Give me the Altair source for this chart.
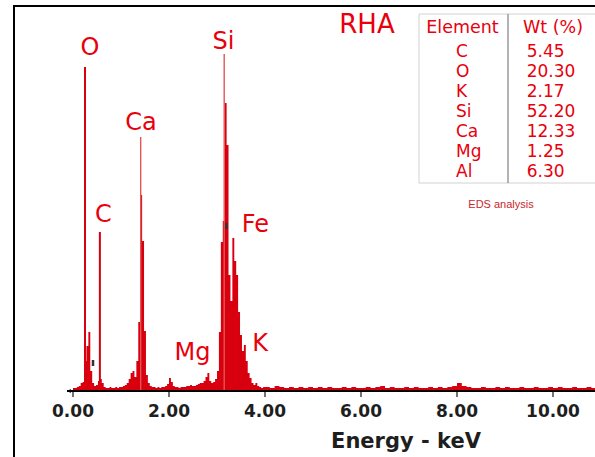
import altair as alt
import pandas as pd
import numpy as np

RED = "#d8000e"
TXT_RED = "#e8000c"

# ---------------- data ----------------
# spectrum counts, fine channels (0.00 - 3.96 keV, 0.04 keV each)
fine_counts = [
    30, 30, 40, 50, 80, 90, 300, 450, 590, 200,
    80, 50, 60, 100, 120, 80, 40, 30, 30, 40,
    30, 30, 40, 30, 40, 40, 50, 60, 80, 120,
    180, 200, 140, 300, 690, 1960, 1500, 600, 160, 80,
    50, 40, 40, 30, 40, 30, 40, 40, 50, 70,
    130, 90, 50, 40, 40, 30, 40, 40, 40, 50,
    50, 60, 50, 50, 60, 70, 80, 80, 100, 140,
    180, 100, 80, 90, 120, 200, 590, 1490, 1700, 2880,
    2460, 1160, 900, 1530, 1300, 1160, 790, 560, 400, 460,
    300, 180, 130, 80, 60, 80, 50, 40, 30, 40,
]
# spectrum counts, coarse channels (4.0 - 10.9 keV, 0.1 keV each)
coarse_counts = [
    40, 30, 50, 40, 30, 40, 30, 40, 30, 40,
    30, 40, 30, 40, 30, 30, 40, 30, 40, 30,
    30, 40, 30, 40, 50, 30, 40, 30, 30, 40,
    30, 40, 30, 30, 40, 30, 40, 30, 40, 50,
    80, 50, 40, 30, 30, 40, 30, 30, 40, 30,
    40, 30, 30, 40, 30, 30, 40, 30, 30, 40,
    30, 40, 30, 30, 40, 30, 30, 40, 30, 30,
]
fine_E = np.round(np.arange(len(fine_counts)) * 0.04, 2)
coarse_E = np.round(4.0 + np.arange(len(coarse_counts)) * 0.1, 1)

# narrow tall peak lines
line_elements = ["O", "C", "Ca", "Si"]
line_E = [0.25, 0.56, 1.41, 3.15]
line_counts = [3240, 1590, 2540, 3370]

# peak labels
label_text = ["O", "C", "Ca", "Si", "Fe", "Mg", "K"]
label_E = [0.354, 0.635, 1.417, 3.135, 3.80, 2.49, 3.896]
label_counts = [3360, 1690, 2610, 3420, 1590, 310, 400]

# small black cursor markers
marker_E = [0.417, 3.198]
marker_lo = [250, 1620]
marker_hi = [310, 1680]

# x axis ticks
tick_values = [0, 2, 4, 6, 8, 10]

# composition table
elements = ["C", "O", "K", "Si", "Ca", "Mg", "Al"]
wt = [5.45, 20.30, 2.17, 52.20, 12.33, 1.25, 6.30]

# ---------------- chart ----------------
W, H = 522, 385
xs = alt.Scale(domain=[0, 10.875], nice=False, zero=False)
ys = alt.Scale(domain=[0, 3850], nice=False, zero=True)

spec_df = pd.DataFrame({
    "E": np.concatenate([fine_E, coarse_E]),
    "counts": fine_counts + coarse_counts,
})
lines_df = pd.DataFrame({"element": line_elements, "E": line_E, "counts": line_counts})
labels_df = pd.DataFrame({"label": label_text, "E": label_E, "counts": label_counts})
markers_df = pd.DataFrame({"E": marker_E, "lo": marker_lo, "hi": marker_hi})
ticks_df = pd.DataFrame({"E": tick_values})
table_df = pd.DataFrame({"element": elements, "wt": wt, "row": list(range(len(elements)))})
one = pd.DataFrame({"k": [0]})

X = alt.X("E:Q", scale=xs, axis=None)

spectrum = alt.Chart(spec_df).mark_area(
    interpolate="step-after", color=RED, clip=True
).encode(x=X, y=alt.Y("counts:Q", scale=ys, axis=None))

strong_lines = alt.Chart(lines_df).transform_filter(
    "datum.element == 'O' || datum.element == 'C'"
).transform_calculate(base="0").mark_rule(color=RED, strokeWidth=2).encode(
    x=X, y=alt.Y("counts:Q", scale=ys, axis=None), y2="base:Q",
)
faint_lines = alt.Chart(lines_df).transform_filter(
    "datum.element == 'Ca' || datum.element == 'Si'"
).transform_calculate(base="0").mark_rule(color="#e25555", strokeWidth=1.4).encode(
    x=X, y=alt.Y("counts:Q", scale=ys, axis=None), y2="base:Q",
)

markers = alt.Chart(markers_df).mark_rule(color="#333", strokeWidth=2.5).encode(
    x=X, y=alt.Y("lo:Q", scale=ys, axis=None), y2="hi:Q",
)

labels = alt.Chart(labels_df).mark_text(
    font="DejaVu Sans", fontSize=24, color=TXT_RED, align="center", baseline="alphabetic"
).encode(x=X, y=alt.Y("counts:Q", scale=ys, axis=None), text="label:N")

# x axis drawn with the x scale
axis_line = alt.Chart(one).mark_rule(color="#000", strokeWidth=2).encode(
    x=alt.value(-6), x2=alt.value(W), y=alt.value(H)
)
axis_arrow = alt.Chart(one).mark_point(
    shape="triangle-left", filled=True, color="#000", size=18, opacity=1
).encode(x=alt.value(-4), y=alt.value(H))
ticks = alt.Chart(ticks_df).mark_rule(color="#444", strokeWidth=1.5).encode(
    x=X, y=alt.value(H + 1), y2=alt.value(H + 6)
)
tick_labels = alt.Chart(ticks_df).mark_text(
    font="DejaVu Sans", fontWeight="bold", fontSize=17, color="#1e1e1e",
    align="center", baseline="alphabetic"
).encode(x=X, y=alt.value(H + 26), text=alt.Text("E:Q", format=".2f"))
x_title = alt.Chart(one).mark_text(
    text="Energy - keV", font="DejaVu Sans", fontWeight="bold", fontSize=21,
    color="#1e1e1e", align="center", baseline="alphabetic"
).encode(x=alt.value(333), y=alt.value(H + 57))

# frame
frame_top = alt.Chart(one).mark_rule(color="#000", strokeWidth=2).encode(
    x=alt.value(-59), x2=alt.value(W + 2), y=alt.value(0)
)
frame_left = alt.Chart(one).mark_rule(color="#000", strokeWidth=2).encode(
    x=alt.value(-59), y=alt.value(-1), y2=alt.value(H + 70)
)

rha = alt.Chart(one).mark_text(
    text="RHA", font="DejaVu Sans", fontSize=26, color=TXT_RED,
    align="center", baseline="alphabetic"
).encode(x=alt.value(294), y=alt.value(27))

# table
table_box = alt.Chart(one).mark_rect(fill="white", stroke="#d2d2d2", strokeWidth=1).encode(
    x=alt.value(346), x2=alt.value(W + 2), y=alt.value(8), y2=alt.value(177)
)
table_div = alt.Chart(one).mark_rule(color="#9a9a9a", strokeWidth=1.5).encode(
    x=alt.value(435), y=alt.value(8), y2=alt.value(177)
)
head_el = alt.Chart(one).mark_text(
    text="Element", font="DejaVu Sans", fontSize=17.5, color=TXT_RED,
    align="center", baseline="alphabetic"
).encode(x=alt.value(389.5), y=alt.value(27.3))
head_wt = alt.Chart(one).mark_text(
    text="Wt (%)", font="DejaVu Sans", fontSize=17.5, color=TXT_RED,
    align="center", baseline="alphabetic"
).encode(x=alt.value(480), y=alt.value(27.3))

table_base = alt.Chart(table_df).transform_calculate(ypix="50.7 + datum.row * 20")
col_el = table_base.mark_text(
    font="DejaVu Sans", fontSize=17, color=TXT_RED, align="left", baseline="alphabetic"
).encode(x=alt.value(383), y=alt.Y("ypix:Q", scale=None), text="element:N")
col_wt = table_base.mark_text(
    font="DejaVu Sans", fontSize=17, color=TXT_RED, align="left", baseline="alphabetic"
).encode(x=alt.value(453.7), y=alt.Y("ypix:Q", scale=None), text=alt.Text("wt:Q", format=".2f"))

eds = alt.Chart(one).mark_text(
    text="EDS analysis", font="Liberation Sans", fontSize=11, color="#c8282d",
    align="center", baseline="alphabetic"
).encode(x=alt.value(428), y=alt.value(202))

chart = alt.layer(
    spectrum, faint_lines, strong_lines, markers, labels,
    axis_line, axis_arrow, ticks, tick_labels, x_title,
    frame_top, frame_left, rha,
    table_box, table_div, head_el, head_wt, col_el, col_wt, eds,
).properties(
    width=W, height=H,
    padding={"left": 73, "top": 6, "right": 0, "bottom": 66},
    autosize=alt.AutoSizeParams(type="none"),
    background="white",
).configure_view(strokeWidth=0)

chart.save("out.html", embed_options={"renderer": "svg", "actions": False})
